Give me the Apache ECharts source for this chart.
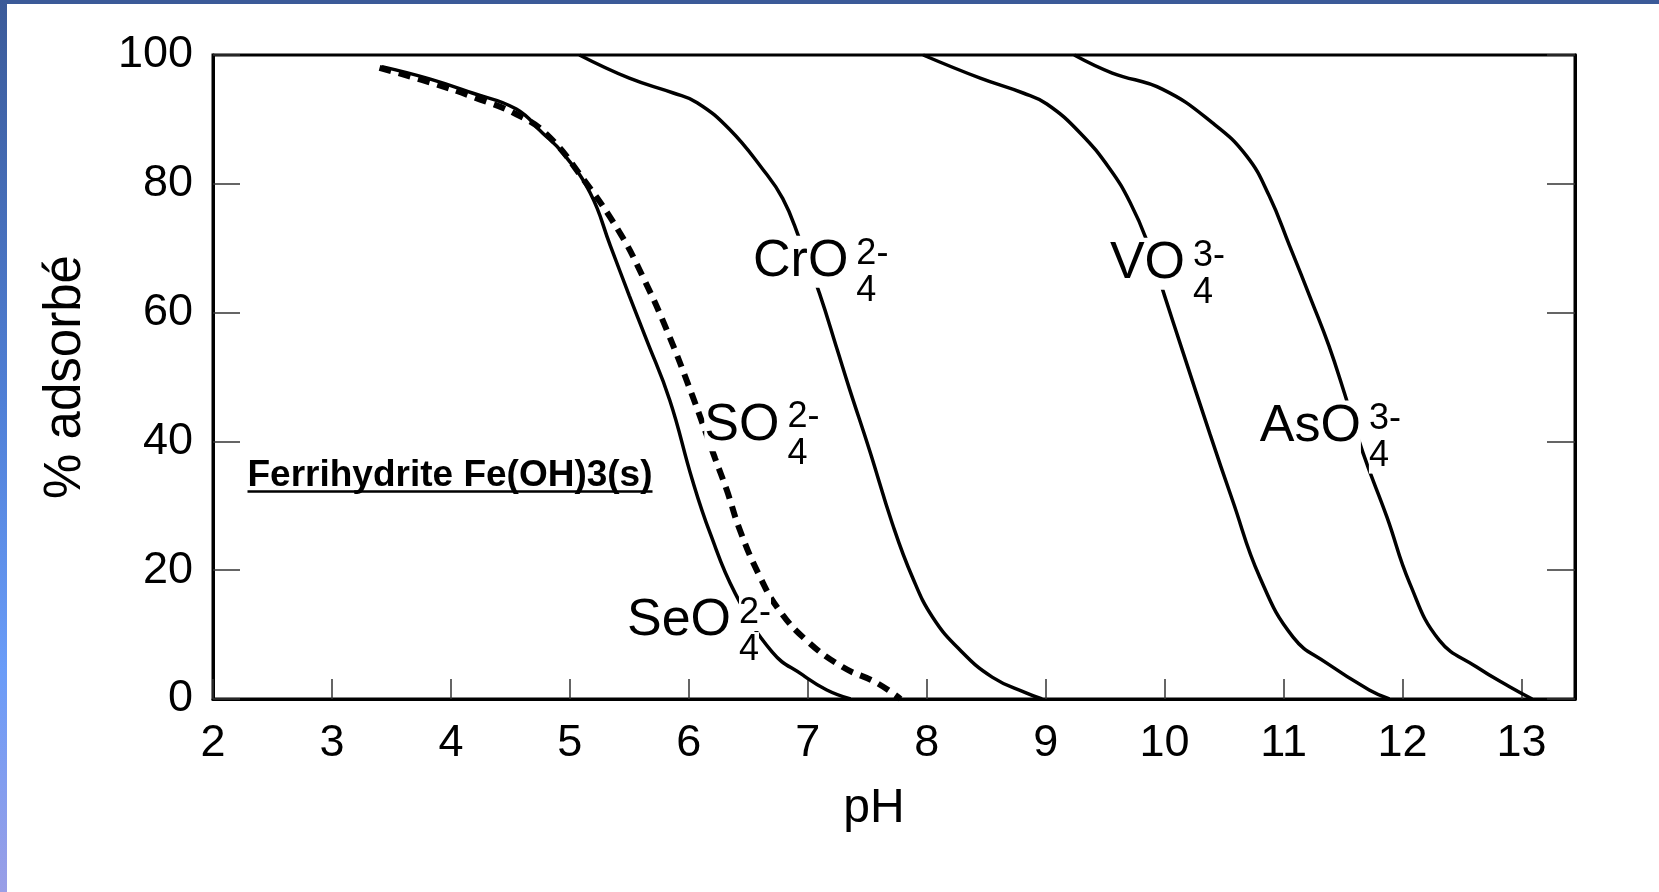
<!DOCTYPE html>
<html>
<head>
<meta charset="utf-8">
<script src="https://cdn.jsdelivr.net/npm/echarts@6/dist/echarts.min.js"></script>
<style>
  html, body { margin: 0; padding: 0; background: #fff; }
  #chart { width: 1659px; height: 892px; }
</style>
</head>
<body>
<div id="chart"></div>
<script>
// curves: pH vs % adsorbed
const seoPH = [3.42, 3.82, 4.18, 4.55, 4.77, 4.94, 5.17, 5.34, 5.50, 5.64, 5.84, 6.03, 6.18, 6.39, 6.70, 6.96, 7.16, 7.36];
const seoAds = [98.2, 96.3, 94.1, 91.6, 87.9, 84.8, 78.6, 70.4, 62.6, 56.0, 46.4, 34.0, 25.7, 16.4, 7.3, 3.7, 1.4, 0];

const soPH = [3.40, 3.85, 4.20, 4.55, 4.81, 5.11, 5.42, 5.61, 5.81, 6.03, 6.22, 6.32, 6.43, 6.60, 6.76, 6.99, 7.29, 7.58, 7.78];
const soAds = [98.0, 95.6, 93.4, 90.8, 87.6, 80.8, 72.4, 65.7, 57.5, 47.1, 37.4, 32.4, 26.2, 18.9, 13.8, 9.1, 5.0, 2.5, 0];

const croPH = [5.08, 5.50, 5.87, 6.07, 6.34, 6.62, 6.79, 6.93, 7.10, 7.25, 7.35, 7.52, 7.71, 7.88, 8.05, 8.28, 8.55, 8.84, 8.97];
const croAds = [100, 96.4, 94.1, 92.6, 88.5, 82.3, 77.7, 71.5, 62.9, 54.1, 48.2, 38.6, 27.3, 18.9, 12.7, 7.6, 3.4, 0.9, 0];

const voPH = [7.97, 8.45, 8.81, 9.01, 9.29, 9.54, 9.71, 9.85, 10.0, 10.15, 10.38, 10.57, 10.80, 11.08, 11.36, 11.72, 11.89];
const voAds = [100, 96.4, 94.1, 92.4, 87.9, 82.3, 77.1, 71.2, 62.6, 54.1, 41.2, 30.9, 18.9, 9.6, 5.6, 1.4, 0];

const asoPH = [9.24, 9.56, 9.98, 10.40, 10.69, 10.88, 11.05, 11.24, 11.38, 11.51, 11.67, 11.87, 12.06, 12.31, 12.62, 12.90, 13.09];
const asoAds = [100, 97.2, 94.7, 89.5, 84.3, 78.1, 70.4, 61.6, 54.9, 47.6, 38.1, 28.2, 18.0, 9.1, 5.0, 1.9, 0];

// ion labels, anchored at the left-middle of the formula
const ionNames = ["CrO", "SO", "SeO", "VO", "AsO"];
const ionCharges = ["2-", "2-", "2-", "3-", "3-"];
const ionIndex = ["4", "4", "4", "4", "4"];
const ionPH = [6.54, 6.13, 5.48, 9.54, 10.80];
const ionAds = [67.9, 42.5, 12.1, 67.6, 42.3];

const noteText = "Ferrihydrite Fe(OH)3(s)";
const notePH = 2.29;
const noteAds = 34.7;

const FONT = "'Liberation Sans', Arial, sans-serif";

function pairs(xs, ys) {
  return xs.map((x, i) => [x, ys[i]]);
}

const chart = echarts.init(document.getElementById("chart"));

function curve(name, xs, ys, dashed) {
  return {
    name: name,
    type: "line",
    data: pairs(xs, ys),
    symbol: "none",
    smooth: 0.45,
    z: 3,
    lineStyle: dashed
      ? { color: "#000", width: 6, type: [12, 8], cap: "butt" }
      : { color: "#000", width: 3.5 },
  };
}

const option = {
  animation: false,
  backgroundColor: "#fff",
  grid: {
    left: 213,
    right: 84,
    top: 55,
    bottom: 193,
    show: true,
    borderColor: "#000",
    borderWidth: 3,
  },
  xAxis: {
    type: "value",
    min: 2,
    max: 13.45,
    interval: 1,
    name: "pH",
    nameLocation: "middle",
    nameGap: 86,
    nameTextStyle: { fontSize: 48, color: "#000", fontFamily: FONT, padding: [0, 40, 0, 0] },
    axisLine: { show: true, lineStyle: { color: "#000", width: 3 } },
    axisTick: { inside: true, length: 20, lineStyle: { color: "#333", width: 1.5 } },
    axisLabel: { fontSize: 45, color: "#000", fontFamily: FONT, margin: 22, showMaxLabel: false },
    splitLine: { show: false },
  },
  yAxis: [
    {
      type: "value",
      min: 0,
      max: 100,
      interval: 20,
      name: "% adsorbé",
      nameLocation: "middle",
      nameGap: 122,
      nameTextStyle: { fontSize: 51, color: "#000", fontFamily: FONT },
      axisLine: { show: true, lineStyle: { color: "#000", width: 3 } },
      axisTick: { inside: true, length: 27, lineStyle: { color: "#333", width: 1.5 } },
      axisLabel: { fontSize: 45, color: "#000", fontFamily: FONT, margin: 20 },
      splitLine: { show: false },
    },
    {
      type: "value",
      position: "right",
      min: 0,
      max: 100,
      interval: 20,
      axisLine: { show: true, lineStyle: { color: "#000", width: 3 } },
      axisTick: { inside: true, length: 28, lineStyle: { color: "#333", width: 1.5 } },
      axisLabel: { show: false },
      splitLine: { show: false },
    },
  ],
  series: [
    curve("SeO4", seoPH, seoAds, false),
    curve("SO4", soPH, soAds, true),
    curve("CrO4", croPH, croAds, false),
    curve("VO4", voPH, voAds, false),
    curve("AsO4", asoPH, asoAds, false),
  ],
};

chart.setOption(option);

// text labels placed from data coordinates
const measure = document.createElement("canvas").getContext("2d");
function textWidth(text, font) {
  measure.font = font;
  return measure.measureText(text).width;
}

const graphics = [
  // slide frame decoration
  { type: "rect", z: 0, shape: { x: 0, y: 0, width: 1659, height: 4 }, style: { fill: "#3b5a98" } },
  {
    type: "rect",
    z: 0,
    shape: { x: 0, y: 0, width: 7, height: 892 },
    style: {
      fill: new echarts.graphic.LinearGradient(0, 0, 0, 1, [
        { offset: 0, color: "#3b5a98" },
        { offset: 0.45, color: "#4f7fd6" },
        { offset: 0.75, color: "#6a9cf8" },
        { offset: 1, color: "#9a9ee6" },
      ]),
    },
  },
];

ionNames.forEach((name, i) => {
  const p = chart.convertToPixel({ gridIndex: 0 }, [ionPH[i], ionAds[i]]);
  const w = textWidth(name, "52px " + FONT);
  graphics.push({
    type: "text",
    z: 100,
    x: p[0],
    y: p[1],
    style: { text: name, fontSize: 52, fontFamily: FONT, fill: "#000", align: "left", verticalAlign: "middle", backgroundColor: "#fff" },
  });
  graphics.push({
    type: "text",
    z: 100,
    x: p[0] + w + 8,
    y: p[1] - 8,
    style: { text: ionCharges[i], fontSize: 36, fontFamily: FONT, fill: "#000", align: "left", verticalAlign: "middle", backgroundColor: "#fff" },
  });
  graphics.push({
    type: "text",
    z: 100,
    x: p[0] + w + 8,
    y: p[1] + 29,
    style: { text: ionIndex[i], fontSize: 36, fontFamily: FONT, fill: "#000", align: "left", verticalAlign: "middle", backgroundColor: "#fff" },
  });
});

const np = chart.convertToPixel({ gridIndex: 0 }, [notePH, noteAds]);
const noteW = textWidth(noteText, "bold 37px " + FONT);
graphics.push({
  type: "text",
  z: 100,
  x: np[0],
  y: np[1],
  style: { text: noteText, fontSize: 37, fontWeight: "bold", fontFamily: FONT, fill: "#000", align: "left", verticalAlign: "middle" },
});
graphics.push({
  type: "line",
  z: 100,
  shape: { x1: np[0], y1: np[1] + 16, x2: np[0] + noteW, y2: np[1] + 16 },
  style: { stroke: "#000", lineWidth: 2.5 },
});

chart.setOption({ graphic: graphics });
</script>
</body>
</html>
